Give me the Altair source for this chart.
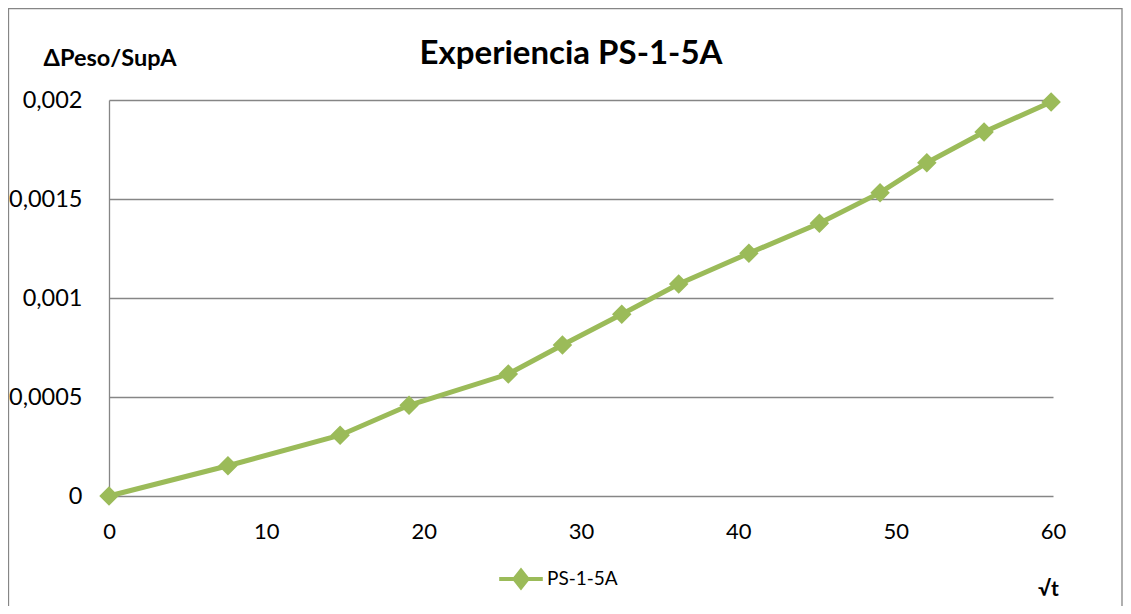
import altair as alt
import pandas as pd

sqrt_t = [0, 7.56, 14.69, 19.07, 25.38, 28.82, 32.59, 36.21, 40.67, 45.15, 49.01, 51.98, 55.62, 59.88]
dpeso = [0, 0.000153, 0.000307, 0.000458, 0.000616, 0.000763, 0.000918, 0.001071,
         0.001226, 0.001377, 0.001532, 0.001683, 0.001838, 0.00199]
series = "PS-1-5A"
title_text = "Experiencia PS-1-5A"
x_ticks = [0, 10, 20, 30, 40, 50, 60]
y_ticks = [0, 0.0005, 0.001, 0.0015, 0.002]

df = pd.DataFrame({"x": sqrt_t, "y": dpeso, "s": [series] * len(sqrt_t)})

GREEN = "#9BBB59"
GRID = "#868686"
FONT = "Lato"

x = alt.X("x:Q", scale=alt.Scale(domain=[0, 60], nice=False),
          axis=alt.Axis(values=x_ticks, title="√t", grid=False, domain=False, ticks=False,
                        labelFontSize=22, labelPadding=25, labelColor="black",
                        labelFlush=False, labelOverlap=False,
                        titleFontSize=21, titleFontWeight="bold", titleColor="black",
                        titleX=939, titleY=93, titleAlign="center", titleBaseline="middle"))
y = alt.Y("y:Q", scale=alt.Scale(domain=[0, 0.002], nice=False),
          axis=alt.Axis(values=y_ticks, format="~g", labelExpr="replace(datum.label, '.', ',')",
                        title="ΔPeso/SupA", titleAngle=0, titleX=-66, titleY=-42,
                        titleAlign="left", titleBaseline="middle",
                        titleFontSize=23.5, titleFontWeight="bold", titleColor="black",
                        grid=True, gridColor=GRID, gridWidth=1.3,
                        domain=True, domainColor=GRID, domainWidth=1.3, ticks=False,
                        labelFontSize=23.5, labelPadding=27, labelColor="black",
                        labelFlush=False, labelOverlap=False))

color = alt.Color("s:N", scale=alt.Scale(domain=[series], range=[GREEN]),
                  legend=alt.Legend(title=None, orient="none", legendX=388, legendY=455,
                                    symbolType="M-1,0L1,0M-0.3,0L0,-0.38L0.3,0L0,0.38Z",
                                    symbolSize=1900, symbolStrokeWidth=4,
                                    symbolFillColor=GREEN, symbolStrokeColor=GREEN,
                                    labelFontSize=19, labelColor="black", labelOffset=2))

line = alt.Chart(df).mark_line(strokeWidth=5).encode(x=x, y=y, color=color)
pts = alt.Chart(df).mark_point(shape="diamond", size=380, filled=True, opacity=1).encode(
    x="x:Q", y="y:Q", color=alt.Color("s:N", legend=None, scale=alt.Scale(domain=[series], range=[GREEN])))

border = alt.Chart(pd.DataFrame({"a": [0]})).mark_rect(
    fill=None, stroke=GRID, strokeWidth=1.3, clip=False).encode(
    x=alt.value(-100.5), x2=alt.value(1013), y=alt.value(-91.5), y2=alt.value(530))

title = alt.Chart(pd.DataFrame({"t": [title_text]})).mark_text(
    fontSize=33, fontWeight="bold", font=FONT, color="black", align="center", baseline="middle",
    clip=False).encode(text="t:N", x=alt.value(462), y=alt.value(-46))

chart = alt.layer(border, line, pts, title).properties(
    width=944, height=396,
    autosize=alt.AutoSizeParams(type="none"),
    padding={"left": 101, "top": 92, "right": 70, "bottom": 110},
).configure(font=FONT).configure_view(stroke=None).configure_axis(labelFont=FONT, titleFont=FONT
).configure_legend(labelFont=FONT)

chart.save("out.html", embed_options={"renderer": "svg", "actions": False})
